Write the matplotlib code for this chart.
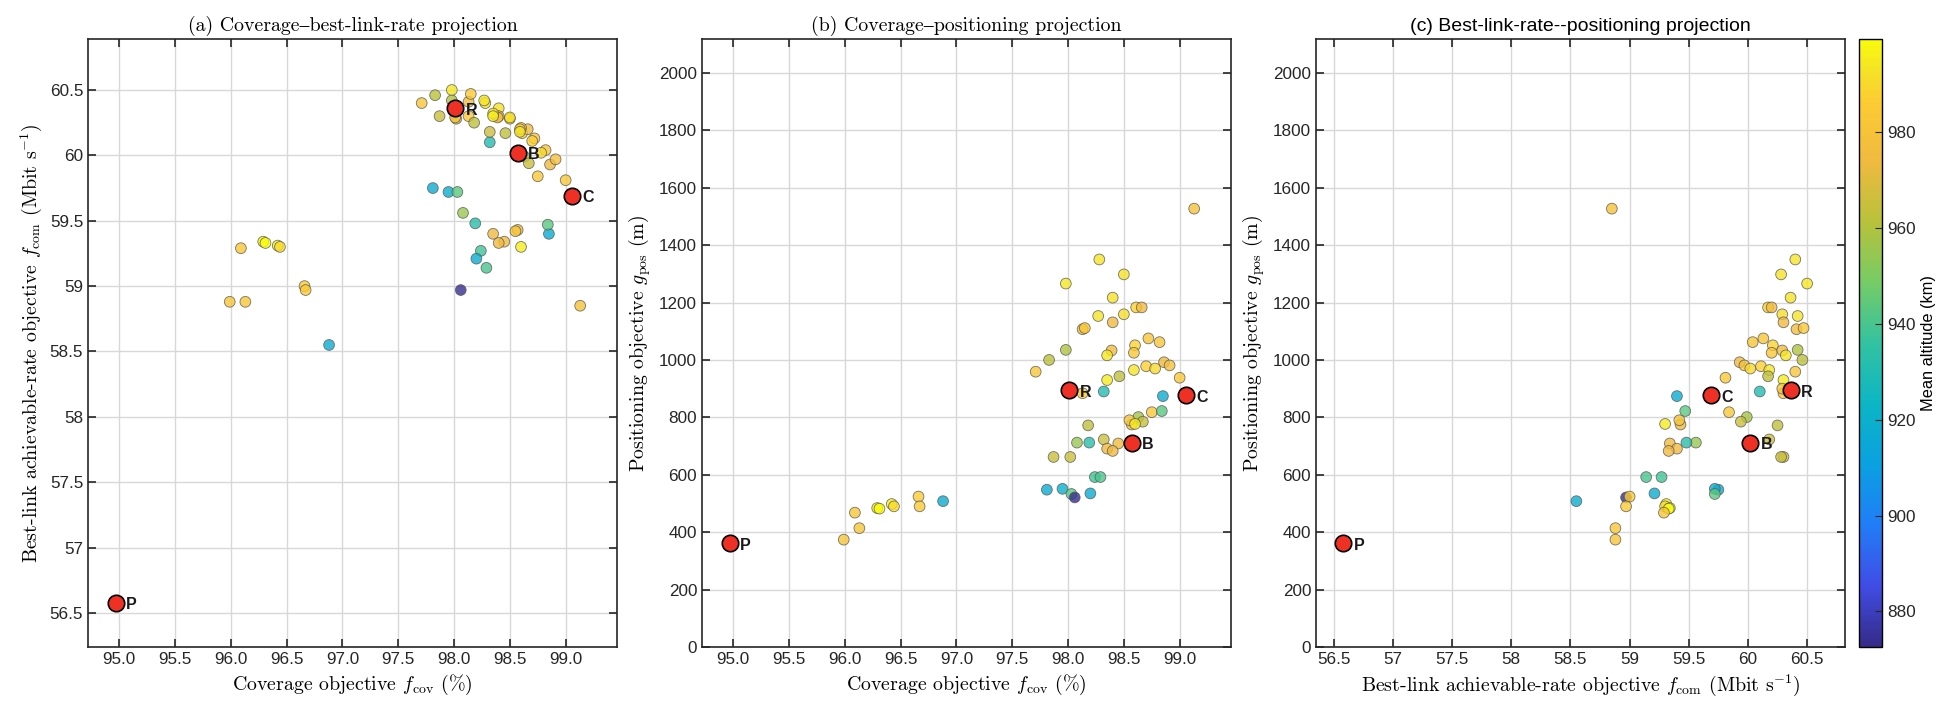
import numpy as np
import matplotlib
matplotlib.use("Agg")
import matplotlib.pyplot as plt
from matplotlib.colors import LinearSegmentedColormap, Normalize

# Solutions: coverage (%), best-link rate (Mbit/s), positioning (m), mean altitude (km)
fcov = [99.13, 98.28, 98.50, 97.98, 98.40, 98.61, 98.66, 98.27, 98.50, 98.40,
        98.13, 98.15, 98.72, 98.82, 97.98, 98.39, 98.60, 98.35, 98.59, 97.83,
        98.86, 98.91, 98.70, 98.78, 98.59, 97.71, 99.00, 98.46, 98.35, 98.32,
        98.13, 98.85, 98.75, 98.84, 98.63, 98.67, 98.57, 98.55, 98.18, 98.32,
        98.45, 98.08, 98.19, 98.35, 98.40, 97.87, 98.02, 98.24, 98.29, 97.81,
        97.95, 98.03, 98.06, 98.20, 96.88, 96.66, 96.67, 96.42, 96.44, 96.29,
        96.31, 96.09, 96.13, 95.99, 98.60, 98.01]
fcom = [58.85, 60.40, 60.28, 60.50, 60.36, 60.17, 60.20, 60.42, 60.29, 60.30,
        60.41, 60.47, 60.13, 60.04, 60.42, 60.29, 60.21, 60.32, 60.20, 60.46,
        59.93, 59.97, 60.11, 60.02, 60.18, 60.40, 59.81, 60.17, 60.30, 60.10,
        60.30, 59.40, 59.84, 59.47, 59.99, 59.94, 59.43, 59.42, 60.25, 60.18,
        59.34, 59.56, 59.48, 59.40, 59.33, 60.30, 60.28, 59.27, 59.14, 59.75,
        59.72, 59.72, 58.97, 59.21, 58.55, 59.00, 58.97, 59.31, 59.30, 59.34,
        59.33, 59.29, 58.88, 58.88, 59.30, 60.29]
gpos = [1527, 1350, 1298, 1266, 1217, 1183, 1183, 1153, 1159, 1131,
        1107, 1111, 1075, 1062, 1035, 1033, 1051, 1016, 1025, 1000,
        992, 981, 978, 970, 965, 959, 938, 943, 930, 890,
        884, 874, 818, 822, 801, 785, 775, 790, 772, 723,
        709, 712, 712, 691, 683, 662, 662, 592, 592, 548,
        551, 533, 521, 535, 508, 524, 490, 498, 490, 484,
        482, 468, 414, 374, 777, 900]
alt = [980, 993, 992, 994, 992, 988, 975, 993, 991, 974,
       976, 984, 982, 982, 960, 975, 988, 994, 983, 962,
       974, 978, 987, 990, 993, 982, 983, 963, 995, 930,
       984, 917, 983, 943, 958, 965, 974, 981, 963, 966,
       975, 955, 932, 974, 974, 965, 966, 938, 940, 918,
       919, 943, 874, 918, 918, 986, 985, 996, 990, 998,
       999, 982, 982, 981, 995, 981]

# Highlighted solutions
hl_names = ["P", "B", "C", "R"]
hl_fcov = [94.97, 98.57, 99.06, 98.01]
hl_fcom = [56.58, 60.02, 59.69, 60.36]
hl_gpos = [361, 712, 877, 895]

cov_ticks = [95.0, 95.5, 96.0, 96.5, 97.0, 97.5, 98.0, 98.5, 99.0]
cov_labels = ["95.0", "95.5", "96.0", "96.5", "97.0", "97.5", "98.0", "98.5", "99.0"]
com_ticks = [56.5, 57, 57.5, 58, 58.5, 59, 59.5, 60, 60.5]
com_labels = ["56.5", "57", "57.5", "58", "58.5", "59", "59.5", "60", "60.5"]
pos_ticks = list(range(0, 2001, 200))
alt_ticks = [880, 900, 920, 940, 960, 980]

# parula-like colour map
parula = LinearSegmentedColormap.from_list("parula", [
    (0.00, (0.2081, 0.1663, 0.5292)),
    (0.10, (0.2500, 0.3000, 0.9000)),
    (0.20, (0.1300, 0.4900, 0.9700)),
    (0.30, (0.0400, 0.6300, 0.8800)),
    (0.40, (0.0500, 0.7100, 0.7700)),
    (0.50, (0.2000, 0.7600, 0.6300)),
    (0.60, (0.4600, 0.8000, 0.4000)),
    (0.70, (0.7200, 0.7600, 0.2300)),
    (0.80, (0.9400, 0.7300, 0.2500)),
    (0.90, (0.9900, 0.8000, 0.2000)),
    (0.95, (0.9600, 0.8900, 0.1500)),
    (1.00, (0.9763, 0.9831, 0.0538)),
])
norm = Normalize(vmin=872.6, vmax=999.3)

plt.rcParams['mathtext.fontset'] = 'cm'
plt.rcParams['font.family'] = ['Liberation Sans', 'DejaVu Sans']
serif = ['cmr10', 'STIXGeneral', 'DejaVu Serif']
TICK = 12.3
LAB = 14.3

fig = plt.figure(figsize=(19.56, 7.16), dpi=100)
bot, hgt = 69 / 716, 608 / 716
ax_a = fig.add_axes([88 / 1956, bot, 529 / 1956, hgt])
ax_b = fig.add_axes([702 / 1956, bot, 529 / 1956, hgt])
ax_c = fig.add_axes([1316 / 1956, bot, 529 / 1956, hgt])
cax = fig.add_axes([1859 / 1956, bot, 23 / 1956, hgt])

panels = [
    (ax_a, fcov, fcom, hl_fcov, hl_fcom),
    (ax_b, fcov, gpos, hl_fcov, hl_gpos),
    (ax_c, fcom, gpos, hl_fcom, hl_gpos),
]

for ax, xs, ys, hx, hy in panels:
    ax.scatter(xs, ys, c=alt, cmap=parula, norm=norm, s=60, alpha=0.8,
               edgecolors='#555555', linewidths=0.6, zorder=3)
    ax.scatter(hx, hy, s=140, color='#ee3124', edgecolors='black',
               linewidths=1.2, zorder=4)
    for name, x, y in zip(hl_names, hx, hy):
        ax.annotate(name, (x, y), xytext=(7.5, -1.5), textcoords='offset points',
                    va='center', ha='left', fontsize=11.5, fontweight='bold',
                    color='#1a1a1a', zorder=5)
    ax.grid(True, color='#d8d8d8', linewidth=1.0, zorder=0)
    ax.set_axisbelow(True)
    ax.tick_params(direction='in', top=True, right=True, length=6, width=1.2,
                   labelsize=TICK, colors='#262626')
    for sp in ax.spines.values():
        sp.set_linewidth(1.2)
        sp.set_color('#262626')

ax_a.set_xlim(94.72, 99.46)
ax_a.set_ylim(56.24, 60.89)
ax_a.set_xticks(cov_ticks)
ax_a.set_xticklabels(cov_labels)
ax_a.set_yticks(com_ticks)
ax_a.set_yticklabels(com_labels)
ax_a.set_title("(a) Coverage\u2013best-link-rate projection", family=serif, fontsize=LAB)
ax_a.set_xlabel(r"Coverage objective $f_{\mathrm{cov}}$ (%)", family=serif, fontsize=LAB)
ax_a.set_ylabel(r"Best-link achievable-rate objective $f_{\mathrm{com}}$ (Mbit s$^{-1}$)",
                family=serif, fontsize=LAB)

ax_b.set_xlim(94.72, 99.46)
ax_b.set_ylim(0, 2118)
ax_b.set_xticks(cov_ticks)
ax_b.set_xticklabels(cov_labels)
ax_b.set_yticks(pos_ticks)
ax_b.set_title("(b) Coverage\u2013positioning projection", family=serif, fontsize=LAB)
ax_b.set_xlabel(r"Coverage objective $f_{\mathrm{cov}}$ (%)", family=serif, fontsize=LAB)
ax_b.set_ylabel(r"Positioning objective $g_{\mathrm{pos}}$ (m)", family=serif, fontsize=LAB)

ax_c.set_xlim(56.35, 60.82)
ax_c.set_ylim(0, 2118)
ax_c.set_xticks(com_ticks)
ax_c.set_xticklabels(com_labels)
ax_c.set_yticks(pos_ticks)
ax_c.set_title("(c) Best-link-rate--positioning projection", fontsize=14)
ax_c.set_xlabel(r"Best-link achievable-rate objective $f_{\mathrm{com}}$ (Mbit s$^{-1}$)",
                family=serif, fontsize=LAB)
ax_c.set_ylabel(r"Positioning objective $g_{\mathrm{pos}}$ (m)", family=serif, fontsize=LAB)

cb = fig.colorbar(plt.cm.ScalarMappable(norm=norm, cmap=parula), cax=cax)
cb.set_ticks(alt_ticks)
cb.ax.tick_params(direction='in', length=5, labelsize=TICK, colors='#262626')
cb.outline.set_linewidth(1.0)
cb.set_label("Mean altitude (km)", fontsize=11.8)

fig.savefig("out.png", dpi=100)
